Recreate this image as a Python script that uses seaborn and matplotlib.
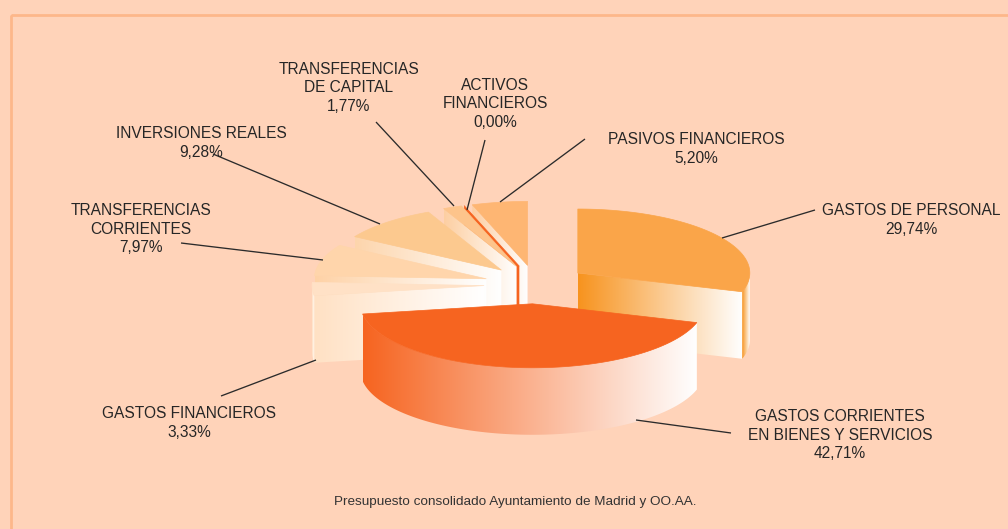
import numpy as np
import matplotlib
matplotlib.use("Agg")
import matplotlib.pyplot as plt
from matplotlib.patches import Polygon, Rectangle
import seaborn as sns

# data, clockwise from the top of the pie
labels = ["GASTOS DE PERSONAL", "GASTOS CORRIENTES\nEN BIENES Y SERVICIOS", "GASTOS FINANCIEROS",
          "TRANSFERENCIAS\nCORRIENTES", "INVERSIONES REALES", "TRANSFERENCIAS\nDE CAPITAL",
          "ACTIVOS\nFINANCIEROS", "PASIVOS FINANCIEROS"]
shares = [29.74, 42.71, 3.33, 7.97, 9.28, 1.77, 0.00, 5.20]
share_text = ["29,74%", "42,71%", "3,33%", "7,97%", "9,28%", "1,77%", "0,00%", "5,20%"]
caption = "Presupuesto consolidado Ayuntamiento de Madrid y OO.AA."

colors = ["#FAA549", "#F66420", "#FFE1C6", "#FFD5AB", "#FCC98F", "#FDC48B", "#F66420", "#FEB673"]
wall_colors = ["#F7931E", "#F66420", "#FFE1C4", "#FED2A6", "#FDD5AC", "#FDCFA2", "#F66420", "#FDCDA0"]
wall_fades = ["#FFFFFF", "#FFFFFF", "#FFFFFF", "#FFFFFF", "#FFFFFF", "#FFFFFF", "#F66420", "#FFFFFF"]

# label centre (x, y of the middle of the text block) and leader line ends, in pixels
label_pos = [(911, 220), (840, 435), (189, 423), (141, 229), (201, 143), (349, 88), (495, 104), (696, 149)]
leaders = [((815, 210), (722, 238)), ((731, 433), (636, 420)), ((316, 360), (221, 396)),
           ((181, 243), (323, 260)), ((213, 154), (380, 224)), ((376, 122), (454, 206)),
           ((485, 140), (467, 210)), ((585, 139), (500, 202))]

# pie geometry in pixels
cx, cy = 536, 284.5
radius = 172
squash = 0.372
explode = 52
depth = 67
bg = "#FFD3B9"
frame = "#FDB78A"


def arc(ox, oy, a0, a1, n=120):
    t = np.radians(np.linspace(a0, a1, n))
    return np.column_stack([ox + radius * np.cos(t), oy + radius * squash * np.sin(t)])


def gradient_fill(ax, pts, base, fade, z):
    # horizontal fade, clipped to the polygon
    cmap = sns.blend_palette([base, fade], as_cmap=True)
    x0, x1 = pts[:, 0].min(), pts[:, 0].max()
    y0, y1 = pts[:, 1].min(), pts[:, 1].max()
    if x1 - x0 < 0.5:
        return
    im = ax.imshow(np.linspace(0, 1, 256)[None, :], cmap=cmap, extent=[x0, x1, y1, y0],
                   aspect="auto", interpolation="bilinear", zorder=z)
    im.set_clip_path(Polygon(pts, closed=True, transform=ax.transData))


sns.set_theme(style="white")
plt.rcParams["font.family"] = ["Liberation Sans", "DejaVu Sans"]

fig = plt.figure(figsize=(10.08, 5.29), dpi=100, facecolor=bg)
ax = fig.add_axes([0, 0, 1, 1])
ax.set_facecolor(bg)
ax.axis("off")

ax.add_patch(Rectangle((10.5, 14.5), 1200, 800, fill=False, ec=frame, lw=2.0, joinstyle="miter", zorder=1))

# wedge angles, screen clockwise, first wedge starts straight up
sweep = np.array(shares) / sum(shares) * 360
starts = 270 + np.concatenate([[0], np.cumsum(sweep)[:-1]])
ends = starts + sweep
mids = (starts + ends) / 2

# back wedges first
for rank, i in enumerate(np.argsort(np.sin(np.radians(mids)))):
    z = 2 + rank * 0.1
    ox = cx + explode * np.cos(np.radians(mids[i]))
    oy = cy + explode * squash * np.sin(np.radians(mids[i]))

    # flat cut walls that face the viewer
    for a, visible in [(starts[i], np.cos(np.radians(starts[i])) < 0),
                       (ends[i], np.cos(np.radians(ends[i])) > 0)]:
        if not visible:
            continue
        rim = arc(ox, oy, a, a, 1)[0]
        wall = np.array([[ox, oy], rim, rim + [0, depth], [ox, oy + depth]])
        gradient_fill(ax, wall, wall_colors[i], wall_fades[i], z)

    # outer rim, only the front half of the circle shows
    for turn in [0, 360]:
        lo, hi = max(starts[i], turn), min(ends[i], turn + 180)
        if hi > lo:
            top = arc(ox, oy, lo, hi)
            side = np.vstack([top, (top + [0, depth])[::-1]])
            gradient_fill(ax, side, wall_colors[i], wall_fades[i], z)

    face = np.vstack([[ox, oy], arc(ox, oy, starts[i], ends[i])])
    ax.add_patch(Polygon(face, closed=True, fc=colors[i], ec=colors[i], lw=0.5, zorder=z + 0.05))

for (p0, p1) in leaders:
    ax.plot([p0[0], p1[0]], [p0[1], p1[1]], color="#2B2B2B", lw=0.95, zorder=5, solid_capstyle="butt")

for name, pct, pos in zip(labels, share_text, label_pos):
    ax.text(pos[0], pos[1], name + "\n" + pct, ha="center", va="center", fontsize=11.2,
            color="#262626", linespacing=1.33, zorder=6)

ax.text(515, 502, caption, ha="center", va="center", fontsize=9.7, color="#333333", zorder=6)

ax.set_xlim(0, 1008)
ax.set_ylim(529, 0)
fig.savefig("out.png", dpi=100, facecolor=bg)
